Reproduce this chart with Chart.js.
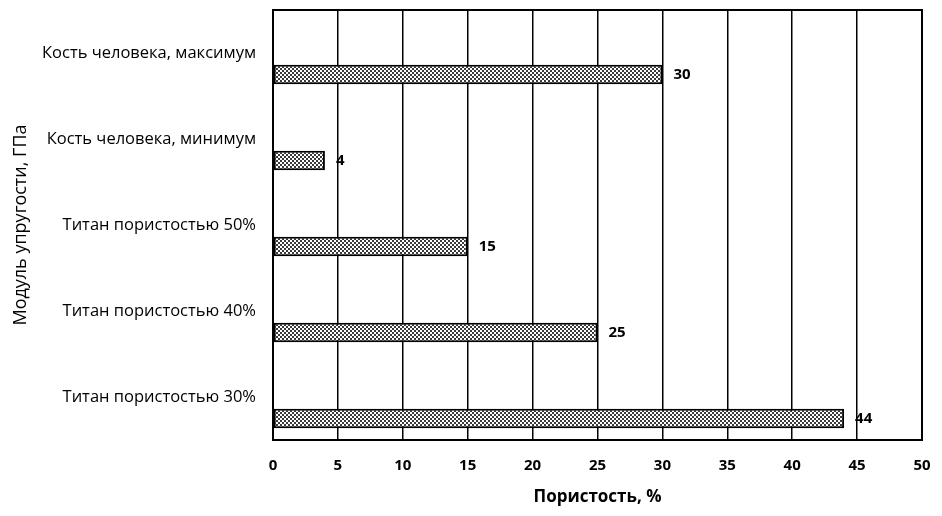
<!DOCTYPE html>
<html>
<head>
<meta charset="utf-8">
<script src="https://cdn.jsdelivr.net/npm/chart.js@4"></script>
<style>
  html, body { margin: 0; padding: 0; background: #fff; }
  #wrap { width: 942px; height: 516px; }
</style>
</head>
<body>
<div id="wrap"><canvas id="porosity"></canvas></div>
<script>
const categories = ['Кость человека, максимум', 'Кость человека, минимум', 'Титан пористостью 50%', 'Титан пористостью 40%', 'Титан пористостью 30%'];
const values = [30, 4, 15, 25, 44];
const xTicks = [0, 5, 10, 15, 20, 25, 30, 35, 40, 45, 50];

const FONT = "'Open Sans', 'Noto Sans', sans-serif";

// stipple fill like the scanned original
function makePattern() {
	let c = document.createElement('canvas');
	c.width = 4; c.height = 4;
	let g = c.getContext('2d');
	g.fillStyle = '#fff';
	g.fillRect(0, 0, 4, 4);
	g.fillStyle = '#3a3a3a';
	g.fillRect(0, 0, 2, 2);
	g.fillRect(2, 2, 2, 2);
	return g.createPattern(c, 'repeat');
}

const frame = {
	id: 'frame',
	afterDatasetsDraw(chart) {
		let a = chart.chartArea, ctx = chart.ctx;
		ctx.save();
		ctx.strokeStyle = '#000';
		ctx.lineWidth = 2;
		ctx.strokeRect(a.left, a.top, a.right - a.left, a.bottom - a.top);
		// value labels
		ctx.fillStyle = '#000';
		ctx.font = 'bold 15px ' + FONT;
		ctx.textBaseline = 'middle';
		let meta = chart.getDatasetMeta(1);
		meta.data.forEach((bar, i) => {
			ctx.fillText(String(values[i]), bar.x + 11, bar.y);
		});
		ctx.restore();
	}
};

new Chart(document.getElementById('porosity'), {
	type: 'bar',
	data: {
		labels: categories,
		datasets: [{
			data: categories.map(() => null),
			backgroundColor: 'transparent'
		}, {
			data: values,
			backgroundColor: makePattern(),
			borderColor: '#000',
			borderWidth: 2,
			borderSkipped: false
		}]
	},
	options: {
		indexAxis: 'y',
		responsive: true,
		maintainAspectRatio: false,
		animation: false,
		categoryPercentage: 1,
		barPercentage: 0.45,
		layout: { padding: { top: 10, right: 20, left: 0, bottom: 0 } },
		plugins: { legend: { display: false }, tooltip: { enabled: false } },
		scales: {
			x: {
				min: 0, max: 50,
				afterBuildTicks: s => { s.ticks = xTicks.map(v => ({ value: v })); },
				afterFit: s => { s.height = 76; s.paddingLeft = 0; s.paddingRight = 0; },
				grid: { color: '#000', lineWidth: 1.5, drawTicks: false },
				border: { color: '#000', width: 2 },
				ticks: { color: '#000', padding: 17, font: { family: FONT, size: 15, weight: 'bold' }, maxRotation: 0 },
				title: { display: true, text: 'Пористость, %', color: '#000', padding: { top: 0, bottom: 9 }, font: { family: FONT, size: 17, weight: 'bold' } }
			},
			y: {
				afterFit: s => { s.width = 273; s.paddingTop = 0; s.paddingBottom = 0; },
				grid: { display: false, drawTicks: false },
				border: { color: '#000', width: 2 },
				ticks: { color: '#000', padding: 17, font: { family: FONT, size: 16.5 } },
				title: { display: true, text: 'Модуль упругости, ГПа', color: '#000', padding: { top: 10, bottom: 0 }, font: { family: FONT, size: 18 } }
			}
		}
	},
	plugins: [frame]
});
</script>
</body>
</html>
